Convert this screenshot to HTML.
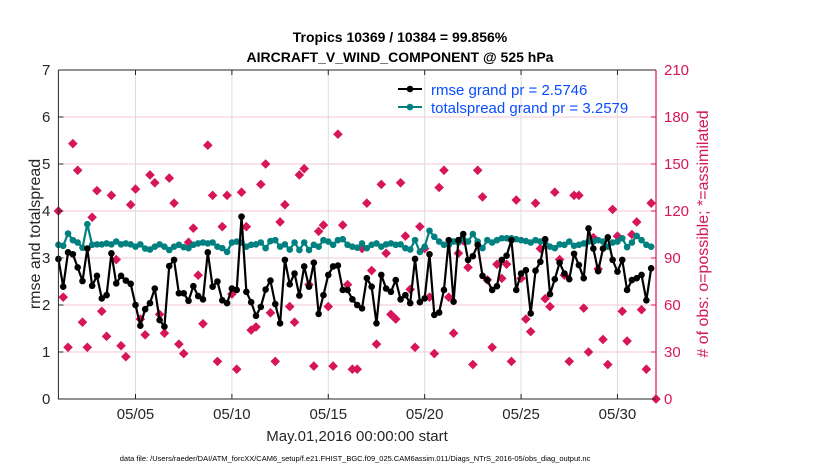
<!DOCTYPE html>
<html><head><meta charset="utf-8"><style>
body{margin:0;background:#fff;}
svg text{font-family:"Liberation Sans",sans-serif;}
</style></head><body>
<svg id="chart" width="830" height="470" viewBox="0 0 830 470" xmlns="http://www.w3.org/2000/svg">
<g id="grid"></g>
<g id="marks"></g>
<g id="axes"></g>
<text x="400" y="42" text-anchor="middle" font-size="14" font-weight="bold" fill="#000">Tropics 10369 / 10384 = 99.856%</text>
<text x="400" y="62" text-anchor="middle" font-size="14" font-weight="bold" fill="#000">AIRCRAFT_V_WIND_COMPONENT @ 525 hPa</text>
<text transform="translate(40,234) rotate(-90)" text-anchor="middle" font-size="16" fill="#262626">rmse and totalspread</text>
<text transform="translate(708,234) rotate(-90)" text-anchor="middle" font-size="16" fill="#d6155a"># of obs: o=possible; *=assimilated</text>
<text x="357" y="441" text-anchor="middle" font-size="15" fill="#262626">May.01,2016 00:00:00 start</text>
<text x="355" y="461" text-anchor="middle" font-size="7.5" fill="#000">data file: /Users/raeder/DAI/ATM_forcXX/CAM6_setup/f.e21.FHIST_BGC.f09_025.CAM6assim.011/Diags_NTrS_2016-05/obs_diag_output.nc</text>
<g>
<line x1="398" y1="89" x2="422" y2="89" stroke="#000" stroke-width="2"/><circle cx="410" cy="89" r="3.3" fill="#000"/>
<text x="431" y="95" font-size="15" fill="#0a4cff">rmse grand pr = 2.5746</text>
<line x1="398" y1="107" x2="422" y2="107" stroke="#00807f" stroke-width="2"/><circle cx="410" cy="107" r="3.3" fill="#00807f"/>
<text x="431" y="113" font-size="15" fill="#0a4cff">totalspread grand pr = 3.2579</text>
</g>
</svg>
<script>
const rmse=[2.98,2.39,3.12,3.08,2.80,2.51,3.2,2.41,2.62,2.14,2.21,3.1,2.46,2.62,2.52,2.45,2.0,1.56,1.91,2.04,2.35,1.68,1.54,2.83,2.96,2.25,2.25,2.09,2.40,2.19,2.12,3.12,
2.39,2.5,2.1,2.04,2.35,2.32,3.88,2.28,2.06,1.77,1.96,2.33,2.52,2.02,1.61,2.96,2.44,2.67,2.2,2.82,2.39,2.9,1.81,2.21,2.64,2.82,2.84,2.32,2.32,2.12,2.0,
1.93,2.57,2.39,1.61,2.64,2.35,2.28,2.53,2.12,2.21,2.04,2.98,2.06,2.14,3.08,1.79,1.84,2.32,3.38,2.07,3.38,3.51,2.96,3.04,3.28,2.62,2.53,2.32,2.40,2.96,3.05,
3.38,2.32,2.67,2.74,1.82,2.73,2.92,3.4,2.23,2.55,2.9,2.67,2.55,3.09,2.85,2.57,3.63,3.2,2.72,3.2,3.44,2.96,2.71,2.96,2.32,2.53,2.57,2.64,2.1,2.78];
const spread=[3.28,3.26,3.52,3.38,3.33,3.22,3.72,3.28,3.29,3.29,3.31,3.29,3.35,3.29,3.31,3.29,3.24,3.29,3.2,3.18,3.24,3.29,3.24,3.17,3.24,3.28,3.23,3.21,3.28,3.31,3.33,3.31,
3.33,3.24,3.21,3.13,3.33,3.35,3.33,3.24,3.28,3.29,3.33,3.21,3.36,3.38,3.24,3.29,3.18,3.33,3.17,3.33,3.17,3.28,3.24,3.38,3.35,3.28,3.38,3.40,3.28,3.24,3.22,
3.31,3.21,3.28,3.31,3.24,3.29,3.31,3.28,3.29,3.21,3.18,3.38,3.13,3.24,3.58,3.45,3.35,3.28,3.28,3.35,3.33,3.40,3.35,3.51,3.35,3.21,3.38,3.33,3.38,3.42,3.42,
3.42,3.40,3.38,3.36,3.33,3.38,3.35,3.38,3.24,3.21,3.29,3.28,3.35,3.26,3.28,3.31,3.35,3.35,3.38,3.35,3.24,3.33,3.35,3.42,3.23,3.33,3.47,3.38,3.28,3.24];
const nobs=[120,65,33,163,146,49,33,116,133,56,40,130,89,34,27,124,134,51,41,143,138,54,42,141,125,35,29,100,109,79,48,162,
130,24,110,130,67,19,132,110,44,46,137,150,55,24,113,124,59,49,143,147,73,21,107,111,59,21,169,111,73,19,19,
96,125,82,35,137,93,54,51,138,104,70,33,110,96,65,29,135,146,65,42,93,101,84,22,146,129,76,33,86,77,86,
24,127,77,51,43,125,96,64,59,132,89,79,24,130,130,58,30,103,83,38,22,121,104,56,37,105,113,57,19,125,0];
const yTicks=[0,1,2,3,4,5,6,7];
const y2Ticks=[0,30,60,90,120,150,180,210];
const xTickDays=[4,9,14,19,24,29];
const xTickLabels=["05/05","05/10","05/15","05/20","05/25","05/30"];

const NS="http://www.w3.org/2000/svg";
const L=58.4,R=656,T=70,B=399;
const xDay=d=>L+(d/31)*(R-L);
const xIdx=i=>xDay(i*0.25);
const yL=v=>B-(v/7)*(B-T);
const yR=v=>B-(v/210)*(B-T);
function mk(tag,attrs,parent){const e=document.createElementNS(NS,tag);for(const k in attrs)e.setAttribute(k,attrs[k]);parent.appendChild(e);return e;}
const grid=document.getElementById('grid'),marks=document.getElementById('marks'),axes=document.getElementById('axes');
yTicks.forEach(v=>{if(v>0&&v<7){const g=mk('line',{x1:L,x2:R,y1:yL(v),y2:yL(v),stroke:'#f3c6d6','stroke-width':1},grid);

}
const t=mk('text',{x:L-8,y:yL(v)+5,'text-anchor':'end','font-size':15,fill:'#262626'},axes);t.textContent=v;


mk('line',{x1:L,x2:L+5,y1:yL(v),y2:yL(v),stroke:'#262626'},axes);});
y2Ticks.forEach(v=>{const t=mk('text',{x:R+8,y:yR(v)+5,'font-size':15,fill:'#d6155a'},axes);t.textContent=v;


mk('line',{x1:R-5,x2:R,y1:yR(v),y2:yR(v),stroke:'#d6155a'},axes);});
xTickDays.forEach((d,k)=>{const g=mk('line',{x1:xDay(d),x2:xDay(d),y1:T,y2:B,stroke:'#dcdcdc','stroke-width':1},grid);


mk('line',{x1:xDay(d),x2:xDay(d),y1:B-5,y2:B,stroke:'#262626'},axes);
mk('line',{x1:xDay(d),x2:xDay(d),y1:T,y2:T+5,stroke:'#262626'},axes);
const t=mk('text',{x:xDay(d),y:B+20,'text-anchor':'middle','font-size':15,fill:'#262626'},axes);t.textContent=xTickLabels[k];

});
mk('path',{d:`M${L},${T}H${R}M${L},${T}V${B}H${R}`,stroke:'#262626',fill:'none','stroke-width':1},axes);
mk('line',{x1:R,x2:R,y1:T,y2:B,stroke:'#d6155a','stroke-width':1.2},axes);
nobs.forEach((v,i)=>{const x=xIdx(i),y=yR(v),s=4.8;
const p=mk('path',{d:`M${x},${y-s}L${x+s},${y}L${x},${y+s}L${x-s},${y}Z`,fill:'#d6155a'},marks);

});
function series(arr,color,name){
const pl=mk('polyline',{points:arr.map((v,i)=>xIdx(i)+','+yL(v)).join(' '),fill:'none',stroke:color,'stroke-width':2.2,'stroke-linejoin':'round'},marks);


arr.forEach((v,i)=>{const c=mk('circle',{cx:xIdx(i),cy:yL(v),r:3.3,fill:color},marks);

});}
series(spread,'#00807f','totalspread');
series(rmse,'#000000','rmse');
</script>
</body></html>
